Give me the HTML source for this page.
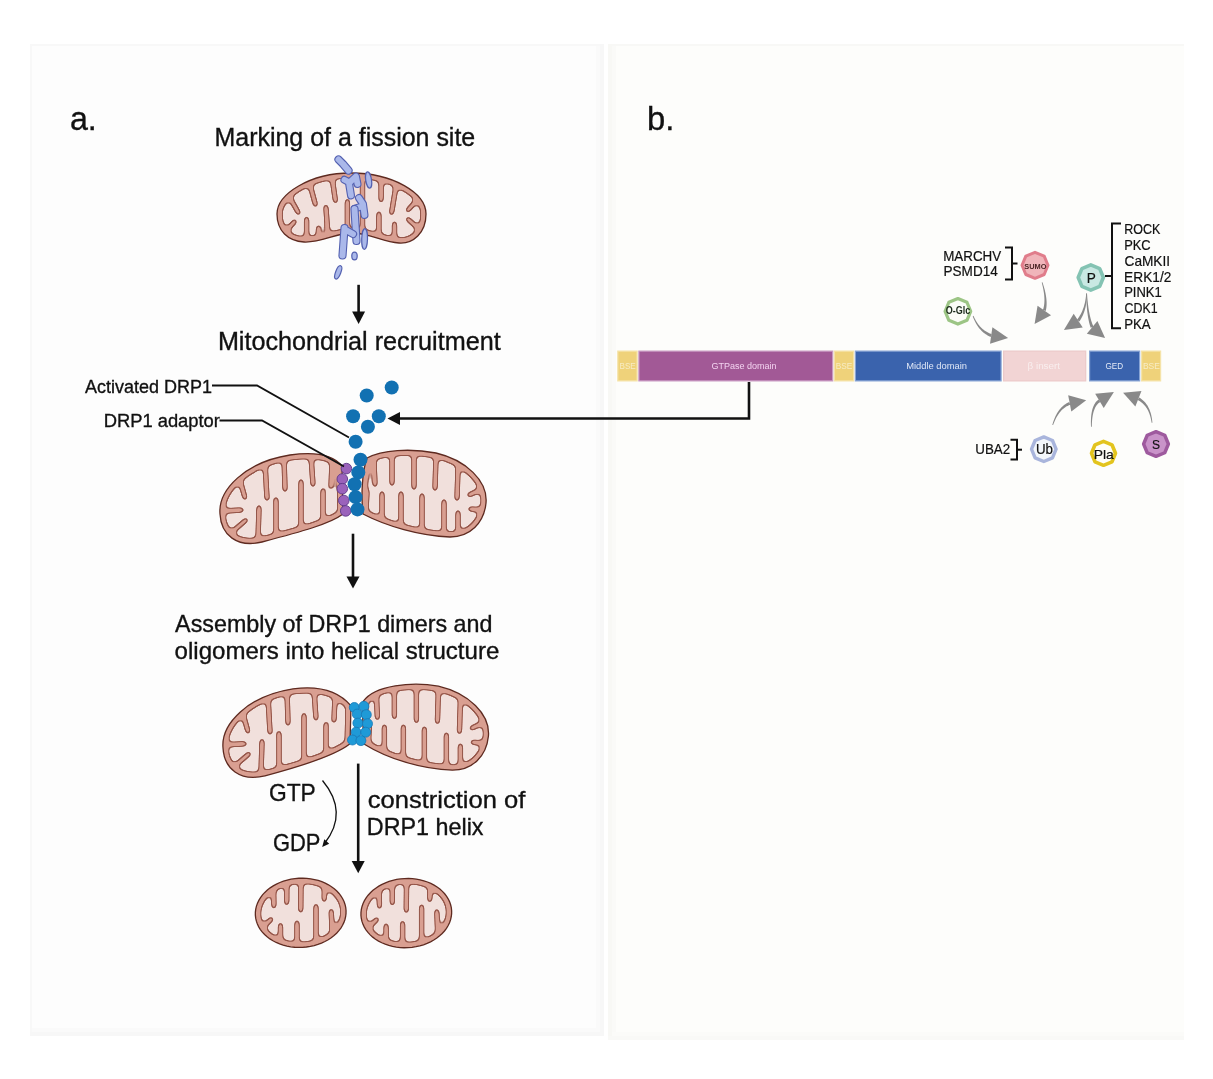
<!DOCTYPE html>
<html><head><meta charset="utf-8"><style>
html,body{margin:0;padding:0;background:#ffffff;overflow:hidden;}
svg{display:block;will-change:transform;}
</style></head><body>
<svg width="1213" height="1079" viewBox="0 0 1213 1079">
<defs><filter id="mf" x="-10%" y="-10%" width="120%" height="120%" color-interpolation-filters="sRGB"><feGaussianBlur in="SourceAlpha" stdDeviation="2.0" result="b"/><feComponentTransfer in="b" result="fa"><feFuncA type="linear" slope="8" intercept="-3.6"/></feComponentTransfer><feMorphology in="fa" operator="dilate" radius="1" result="dil"/><feComposite in="dil" in2="fa" operator="out" result="ea"/><feFlood flood-color="#f1e0dc" result="c1"/><feComposite in="c1" in2="fa" operator="in" result="fill"/><feFlood flood-color="#94564a" result="c2"/><feComposite in="c2" in2="ea" operator="in" result="edge"/><feMerge><feMergeNode in="fill"/><feMergeNode in="edge"/></feMerge></filter><mask id="mm1" maskUnits="userSpaceOnUse" x="0" y="0" width="1213" height="1079"><path d="M277,214 C277,194 310,173 351,173 C393,173 426,193 426,214 C426,233 413,244 399,243 C383,242 369,233 352,233 C336,233 321,243 304,242 C288,241 277,231 277,214 Z" fill="#fff"/><path d="M277,214 C277,194 310,173 351,173 C393,173 426,193 426,214 C426,233 413,244 399,243 C383,242 369,233 352,233 C336,233 321,243 304,242 C288,241 277,231 277,214 Z" fill="none" stroke="#000" stroke-width="11.2"/><line x1="289" y1="196" x2="298.5" y2="213" stroke="#000" stroke-width="5.4" stroke-linecap="round"/><line x1="286" y1="231" x2="294.8" y2="221.4" stroke="#000" stroke-width="5.4" stroke-linecap="round"/><line x1="309" y1="181" x2="315.5" y2="205" stroke="#000" stroke-width="5.4" stroke-linecap="round"/><line x1="332" y1="177" x2="335.5" y2="201.4" stroke="#000" stroke-width="5.4" stroke-linecap="round"/><line x1="306.6" y1="240" x2="306.6" y2="218.4" stroke="#000" stroke-width="5.4" stroke-linecap="round"/><line x1="318.5" y1="238" x2="318.5" y2="227.3" stroke="#000" stroke-width="5.4" stroke-linecap="round"/><line x1="328" y1="237" x2="325.9" y2="206.5" stroke="#000" stroke-width="5.4" stroke-linecap="round"/><line x1="347.4" y1="233" x2="347.4" y2="200.6" stroke="#000" stroke-width="5.4" stroke-linecap="round"/><line x1="362.5" y1="175" x2="362.5" y2="235" stroke="#000" stroke-width="5.4" stroke-linecap="round"/><line x1="381.1" y1="177" x2="381.1" y2="200.6" stroke="#000" stroke-width="5.4" stroke-linecap="round"/><line x1="396" y1="186" x2="391.5" y2="213.2" stroke="#000" stroke-width="5.4" stroke-linecap="round"/><line x1="418" y1="199" x2="407.8" y2="210.3" stroke="#000" stroke-width="5.4" stroke-linecap="round"/><line x1="378.9" y1="240" x2="378.9" y2="213.2" stroke="#000" stroke-width="5.4" stroke-linecap="round"/><line x1="394.5" y1="242" x2="394.5" y2="223.2" stroke="#000" stroke-width="5.4" stroke-linecap="round"/><line x1="420" y1="230" x2="407.8" y2="219.1" stroke="#000" stroke-width="5.4" stroke-linecap="round"/></mask><mask id="mm2" maskUnits="userSpaceOnUse" x="0" y="0" width="1213" height="1079"><path d="M220,514 C218,490 245,462 290,455 C318,451 334,456 342,466 L343,514 C330,524 300,532 262,542 C237,548 221,535 220,514 Z" fill="#fff"/><path d="M220,514 C218,490 245,462 290,455 C318,451 334,456 342,466 L343,514 C330,524 300,532 262,542 C237,548 221,535 220,514 Z" fill="none" stroke="#000" stroke-width="11.2"/><line x1="240" y1="480" x2="245" y2="498" stroke="#000" stroke-width="5.4" stroke-linecap="round"/><line x1="265" y1="462" x2="267" y2="499" stroke="#000" stroke-width="5.4" stroke-linecap="round"/><line x1="284" y1="456" x2="285" y2="490" stroke="#000" stroke-width="5.4" stroke-linecap="round"/><line x1="311" y1="456" x2="313" y2="485" stroke="#000" stroke-width="5.4" stroke-linecap="round"/><line x1="332" y1="462" x2="331" y2="487" stroke="#000" stroke-width="5.4" stroke-linecap="round"/><line x1="224" y1="511" x2="242" y2="510" stroke="#000" stroke-width="5.4" stroke-linecap="round"/><line x1="232" y1="532" x2="246" y2="520" stroke="#000" stroke-width="5.4" stroke-linecap="round"/><line x1="258" y1="540" x2="259" y2="507" stroke="#000" stroke-width="5.4" stroke-linecap="round"/><line x1="276" y1="535" x2="276" y2="499" stroke="#000" stroke-width="5.4" stroke-linecap="round"/><line x1="301" y1="530" x2="301" y2="481" stroke="#000" stroke-width="5.4" stroke-linecap="round"/><line x1="323" y1="524" x2="323" y2="490" stroke="#000" stroke-width="5.4" stroke-linecap="round"/></mask><mask id="mm3" maskUnits="userSpaceOnUse" x="0" y="0" width="1213" height="1079"><path d="M367,458 C382,450 410,448 436,453 C466,460 488,481 486,503 C484,523 470,537 450,537 C420,536 386,526 363,514 C361,495 362,472 367,458 Z" fill="#fff"/><path d="M367,458 C382,450 410,448 436,453 C466,460 488,481 486,503 C484,523 470,537 450,537 C420,536 386,526 363,514 C361,495 362,472 367,458 Z" fill="none" stroke="#000" stroke-width="11.2"/><line x1="374" y1="462" x2="375" y2="485" stroke="#000" stroke-width="5.4" stroke-linecap="round"/><line x1="392" y1="452" x2="392" y2="484" stroke="#000" stroke-width="5.4" stroke-linecap="round"/><line x1="414" y1="451" x2="414" y2="488" stroke="#000" stroke-width="5.4" stroke-linecap="round"/><line x1="436" y1="456" x2="435" y2="489" stroke="#000" stroke-width="5.4" stroke-linecap="round"/><line x1="458" y1="468" x2="457" y2="499" stroke="#000" stroke-width="5.4" stroke-linecap="round"/><line x1="480" y1="490" x2="469" y2="495" stroke="#000" stroke-width="5.4" stroke-linecap="round"/><line x1="366" y1="510" x2="367" y2="491" stroke="#000" stroke-width="5.4" stroke-linecap="round"/><line x1="382" y1="520" x2="382" y2="493" stroke="#000" stroke-width="5.4" stroke-linecap="round"/><line x1="401" y1="527" x2="401" y2="493" stroke="#000" stroke-width="5.4" stroke-linecap="round"/><line x1="422" y1="532" x2="422" y2="495" stroke="#000" stroke-width="5.4" stroke-linecap="round"/><line x1="444" y1="536" x2="444" y2="501" stroke="#000" stroke-width="5.4" stroke-linecap="round"/><line x1="458" y1="536" x2="458" y2="512" stroke="#000" stroke-width="5.4" stroke-linecap="round"/><line x1="482" y1="510" x2="470" y2="509" stroke="#000" stroke-width="5.4" stroke-linecap="round"/></mask><mask id="mm4" maskUnits="userSpaceOnUse" x="0" y="0" width="1213" height="1079"><path d="M220,514 C218,490 245,462 290,455 C320,451 338,460 348,472 L347,510 C332,522 300,532 262,542 C237,548 221,535 220,514 Z" fill="#fff"/><path d="M220,514 C218,490 245,462 290,455 C320,451 338,460 348,472 L347,510 C332,522 300,532 262,542 C237,548 221,535 220,514 Z" fill="none" stroke="#000" stroke-width="11.2"/><line x1="240" y1="480" x2="245" y2="498" stroke="#000" stroke-width="5.4" stroke-linecap="round"/><line x1="265" y1="462" x2="267" y2="499" stroke="#000" stroke-width="5.4" stroke-linecap="round"/><line x1="284" y1="456" x2="285" y2="490" stroke="#000" stroke-width="5.4" stroke-linecap="round"/><line x1="311" y1="456" x2="313" y2="485" stroke="#000" stroke-width="5.4" stroke-linecap="round"/><line x1="332" y1="462" x2="331" y2="487" stroke="#000" stroke-width="5.4" stroke-linecap="round"/><line x1="224" y1="511" x2="242" y2="510" stroke="#000" stroke-width="5.4" stroke-linecap="round"/><line x1="232" y1="532" x2="246" y2="520" stroke="#000" stroke-width="5.4" stroke-linecap="round"/><line x1="258" y1="540" x2="259" y2="507" stroke="#000" stroke-width="5.4" stroke-linecap="round"/><line x1="276" y1="535" x2="276" y2="499" stroke="#000" stroke-width="5.4" stroke-linecap="round"/><line x1="301" y1="530" x2="301" y2="481" stroke="#000" stroke-width="5.4" stroke-linecap="round"/><line x1="323" y1="524" x2="323" y2="490" stroke="#000" stroke-width="5.4" stroke-linecap="round"/></mask><mask id="mm5" maskUnits="userSpaceOnUse" x="0" y="0" width="1213" height="1079"><path d="M361,468 C372,452 410,448 436,453 C466,460 488,481 486,503 C484,523 470,537 450,537 C420,536 386,526 362,511 C360,495 360,480 361,468 Z" fill="#fff"/><path d="M361,468 C372,452 410,448 436,453 C466,460 488,481 486,503 C484,523 470,537 450,537 C420,536 386,526 362,511 C360,495 360,480 361,468 Z" fill="none" stroke="#000" stroke-width="11.2"/><line x1="374" y1="462" x2="375" y2="485" stroke="#000" stroke-width="5.4" stroke-linecap="round"/><line x1="392" y1="452" x2="392" y2="484" stroke="#000" stroke-width="5.4" stroke-linecap="round"/><line x1="414" y1="451" x2="414" y2="488" stroke="#000" stroke-width="5.4" stroke-linecap="round"/><line x1="436" y1="456" x2="435" y2="489" stroke="#000" stroke-width="5.4" stroke-linecap="round"/><line x1="458" y1="468" x2="457" y2="499" stroke="#000" stroke-width="5.4" stroke-linecap="round"/><line x1="480" y1="490" x2="469" y2="495" stroke="#000" stroke-width="5.4" stroke-linecap="round"/><line x1="366" y1="510" x2="367" y2="491" stroke="#000" stroke-width="5.4" stroke-linecap="round"/><line x1="382" y1="520" x2="382" y2="493" stroke="#000" stroke-width="5.4" stroke-linecap="round"/><line x1="401" y1="527" x2="401" y2="493" stroke="#000" stroke-width="5.4" stroke-linecap="round"/><line x1="422" y1="532" x2="422" y2="495" stroke="#000" stroke-width="5.4" stroke-linecap="round"/><line x1="444" y1="536" x2="444" y2="501" stroke="#000" stroke-width="5.4" stroke-linecap="round"/><line x1="458" y1="536" x2="458" y2="512" stroke="#000" stroke-width="5.4" stroke-linecap="round"/><line x1="482" y1="510" x2="470" y2="509" stroke="#000" stroke-width="5.4" stroke-linecap="round"/></mask><mask id="mm6" maskUnits="userSpaceOnUse" x="0" y="0" width="1213" height="1079"><path d="M346.04,910.42 L346.02,913.44 L345.66,916.46 L344.96,919.45 L343.92,922.38 L342.56,925.25 L340.87,928.02 L338.88,930.67 L336.59,933.19 L334.04,935.55 L331.23,937.74 L328.19,939.74 L324.94,941.54 L321.50,943.11 L317.91,944.46 L314.18,945.56 L310.36,946.42 L306.46,947.01 L302.51,947.35 L298.55,947.43 L294.61,947.24 L290.71,946.79 L286.90,946.08 L283.18,945.12 L279.60,943.91 L276.18,942.47 L272.94,940.80 L269.92,938.91 L267.13,936.83 L264.60,934.56 L262.34,932.13 L260.38,929.56 L258.72,926.85 L257.38,924.04 L256.37,921.14 L255.69,918.18 L255.36,915.18 L255.38,912.16 L255.74,909.14 L256.44,906.15 L257.48,903.22 L258.84,900.35 L260.53,897.58 L262.52,894.93 L264.81,892.41 L267.36,890.05 L270.17,887.86 L273.21,885.86 L276.46,884.06 L279.90,882.49 L283.49,881.14 L287.22,880.04 L291.04,879.18 L294.94,878.59 L298.89,878.25 L302.85,878.17 L306.79,878.36 L310.69,878.81 L314.50,879.52 L318.22,880.48 L321.80,881.69 L325.22,883.13 L328.46,884.80 L331.48,886.69 L334.27,888.77 L336.80,891.04 L339.06,893.47 L341.02,896.04 L342.68,898.75 L344.02,901.56 L345.03,904.46 L345.71,907.42 Z" fill="#fff"/><path d="M346.04,910.42 L346.02,913.44 L345.66,916.46 L344.96,919.45 L343.92,922.38 L342.56,925.25 L340.87,928.02 L338.88,930.67 L336.59,933.19 L334.04,935.55 L331.23,937.74 L328.19,939.74 L324.94,941.54 L321.50,943.11 L317.91,944.46 L314.18,945.56 L310.36,946.42 L306.46,947.01 L302.51,947.35 L298.55,947.43 L294.61,947.24 L290.71,946.79 L286.90,946.08 L283.18,945.12 L279.60,943.91 L276.18,942.47 L272.94,940.80 L269.92,938.91 L267.13,936.83 L264.60,934.56 L262.34,932.13 L260.38,929.56 L258.72,926.85 L257.38,924.04 L256.37,921.14 L255.69,918.18 L255.36,915.18 L255.38,912.16 L255.74,909.14 L256.44,906.15 L257.48,903.22 L258.84,900.35 L260.53,897.58 L262.52,894.93 L264.81,892.41 L267.36,890.05 L270.17,887.86 L273.21,885.86 L276.46,884.06 L279.90,882.49 L283.49,881.14 L287.22,880.04 L291.04,879.18 L294.94,878.59 L298.89,878.25 L302.85,878.17 L306.79,878.36 L310.69,878.81 L314.50,879.52 L318.22,880.48 L321.80,881.69 L325.22,883.13 L328.46,884.80 L331.48,886.69 L334.27,888.77 L336.80,891.04 L339.06,893.47 L341.02,896.04 L342.68,898.75 L344.02,901.56 L345.03,904.46 L345.71,907.42 Z" fill="none" stroke="#000" stroke-width="11.6"/><line x1="273.5" y1="886" x2="273.9" y2="906.6" stroke="#000" stroke-width="5.4" stroke-linecap="round"/><line x1="286.8" y1="881" x2="286.7" y2="903.3" stroke="#000" stroke-width="5.4" stroke-linecap="round"/><line x1="301" y1="879" x2="300.7" y2="910.7" stroke="#000" stroke-width="5.4" stroke-linecap="round"/><line x1="324.5" y1="883" x2="324.2" y2="900" stroke="#000" stroke-width="5.4" stroke-linecap="round"/><line x1="261" y1="929" x2="271.4" y2="919" stroke="#000" stroke-width="5.4" stroke-linecap="round"/><line x1="280.5" y1="941" x2="280.5" y2="924.8" stroke="#000" stroke-width="5.4" stroke-linecap="round"/><line x1="297" y1="944" x2="297" y2="922.3" stroke="#000" stroke-width="5.4" stroke-linecap="round"/><line x1="316" y1="941" x2="316" y2="905.8" stroke="#000" stroke-width="5.4" stroke-linecap="round"/><line x1="332" y1="930" x2="331.2" y2="910.7" stroke="#000" stroke-width="5.4" stroke-linecap="round"/></mask><mask id="mm7" maskUnits="userSpaceOnUse" x="0" y="0" width="1213" height="1079"><path d="M346.04,910.42 L346.02,913.44 L345.66,916.46 L344.96,919.45 L343.92,922.38 L342.56,925.25 L340.87,928.02 L338.88,930.67 L336.59,933.19 L334.04,935.55 L331.23,937.74 L328.19,939.74 L324.94,941.54 L321.50,943.11 L317.91,944.46 L314.18,945.56 L310.36,946.42 L306.46,947.01 L302.51,947.35 L298.55,947.43 L294.61,947.24 L290.71,946.79 L286.90,946.08 L283.18,945.12 L279.60,943.91 L276.18,942.47 L272.94,940.80 L269.92,938.91 L267.13,936.83 L264.60,934.56 L262.34,932.13 L260.38,929.56 L258.72,926.85 L257.38,924.04 L256.37,921.14 L255.69,918.18 L255.36,915.18 L255.38,912.16 L255.74,909.14 L256.44,906.15 L257.48,903.22 L258.84,900.35 L260.53,897.58 L262.52,894.93 L264.81,892.41 L267.36,890.05 L270.17,887.86 L273.21,885.86 L276.46,884.06 L279.90,882.49 L283.49,881.14 L287.22,880.04 L291.04,879.18 L294.94,878.59 L298.89,878.25 L302.85,878.17 L306.79,878.36 L310.69,878.81 L314.50,879.52 L318.22,880.48 L321.80,881.69 L325.22,883.13 L328.46,884.80 L331.48,886.69 L334.27,888.77 L336.80,891.04 L339.06,893.47 L341.02,896.04 L342.68,898.75 L344.02,901.56 L345.03,904.46 L345.71,907.42 Z" fill="#fff"/><path d="M346.04,910.42 L346.02,913.44 L345.66,916.46 L344.96,919.45 L343.92,922.38 L342.56,925.25 L340.87,928.02 L338.88,930.67 L336.59,933.19 L334.04,935.55 L331.23,937.74 L328.19,939.74 L324.94,941.54 L321.50,943.11 L317.91,944.46 L314.18,945.56 L310.36,946.42 L306.46,947.01 L302.51,947.35 L298.55,947.43 L294.61,947.24 L290.71,946.79 L286.90,946.08 L283.18,945.12 L279.60,943.91 L276.18,942.47 L272.94,940.80 L269.92,938.91 L267.13,936.83 L264.60,934.56 L262.34,932.13 L260.38,929.56 L258.72,926.85 L257.38,924.04 L256.37,921.14 L255.69,918.18 L255.36,915.18 L255.38,912.16 L255.74,909.14 L256.44,906.15 L257.48,903.22 L258.84,900.35 L260.53,897.58 L262.52,894.93 L264.81,892.41 L267.36,890.05 L270.17,887.86 L273.21,885.86 L276.46,884.06 L279.90,882.49 L283.49,881.14 L287.22,880.04 L291.04,879.18 L294.94,878.59 L298.89,878.25 L302.85,878.17 L306.79,878.36 L310.69,878.81 L314.50,879.52 L318.22,880.48 L321.80,881.69 L325.22,883.13 L328.46,884.80 L331.48,886.69 L334.27,888.77 L336.80,891.04 L339.06,893.47 L341.02,896.04 L342.68,898.75 L344.02,901.56 L345.03,904.46 L345.71,907.42 Z" fill="none" stroke="#000" stroke-width="11.6"/><line x1="273.5" y1="886" x2="273.9" y2="906.6" stroke="#000" stroke-width="5.4" stroke-linecap="round"/><line x1="286.8" y1="881" x2="286.7" y2="903.3" stroke="#000" stroke-width="5.4" stroke-linecap="round"/><line x1="301" y1="879" x2="300.7" y2="910.7" stroke="#000" stroke-width="5.4" stroke-linecap="round"/><line x1="324.5" y1="883" x2="324.2" y2="900" stroke="#000" stroke-width="5.4" stroke-linecap="round"/><line x1="261" y1="929" x2="271.4" y2="919" stroke="#000" stroke-width="5.4" stroke-linecap="round"/><line x1="280.5" y1="941" x2="280.5" y2="924.8" stroke="#000" stroke-width="5.4" stroke-linecap="round"/><line x1="297" y1="944" x2="297" y2="922.3" stroke="#000" stroke-width="5.4" stroke-linecap="round"/><line x1="316" y1="941" x2="316" y2="905.8" stroke="#000" stroke-width="5.4" stroke-linecap="round"/><line x1="332" y1="930" x2="331.2" y2="910.7" stroke="#000" stroke-width="5.4" stroke-linecap="round"/></mask></defs>
<rect width="1213" height="1079" fill="#ffffff"/>
<rect x="30" y="44" width="574" height="992" fill="#fdfdfd"/>
<rect x="30" y="44" width="574" height="2" fill="#f8f8f8"/>
<rect x="30" y="44" width="2" height="992" fill="#f8f8f8"/>
<rect x="596" y="46" width="4" height="986" fill="#fafafa"/>
<rect x="600" y="44" width="4" height="992" fill="#f7f7f7"/>
<rect x="32" y="1028" width="568" height="4" fill="#fafafa"/>
<rect x="30" y="1032" width="574" height="4" fill="#f7f7f7"/>
<rect x="608" y="44" width="576" height="996" fill="#fdfdfb"/>
<rect x="608" y="44" width="576" height="2" fill="#f8f8f6"/>
<rect x="608" y="44" width="4" height="996" fill="#f8f8f5"/>
<rect x="612" y="46" width="4" height="990" fill="#fafaf8"/>
<rect x="612" y="1032" width="572" height="4" fill="#fbfbf9"/>
<rect x="608" y="1036" width="576" height="4" fill="#f9f9f7"/>
<path d="M277,214 C277,194 310,173 351,173 C393,173 426,193 426,214 C426,233 413,244 399,243 C383,242 369,233 352,233 C336,233 321,243 304,242 C288,241 277,231 277,214 Z" fill="#d99f91"/>
<g filter="url(#mf)"><g mask="url(#mm1)"><rect x="0" y="0" width="1213" height="1079" fill="#000"/></g></g>
<path d="M277,214 C277,194 310,173 351,173 C393,173 426,193 426,214 C426,233 413,244 399,243 C383,242 369,233 352,233 C336,233 321,243 304,242 C288,241 277,231 277,214 Z" fill="none" stroke="#5e2a20" stroke-width="1.3"/>
<path d="M220,514 C218,490 245,462 290,455 C318,451 334,456 342,466 L343,514 C330,524 300,532 262,542 C237,548 221,535 220,514 Z" fill="#d99f91"/>
<g filter="url(#mf)"><g mask="url(#mm2)"><rect x="0" y="0" width="1213" height="1079" fill="#000"/></g></g>
<path d="M220,514 C218,490 245,462 290,455 C318,451 334,456 342,466 L343,514 C330,524 300,532 262,542 C237,548 221,535 220,514 Z" fill="none" stroke="#5e2a20" stroke-width="1.3"/>
<path d="M367,458 C382,450 410,448 436,453 C466,460 488,481 486,503 C484,523 470,537 450,537 C420,536 386,526 363,514 C361,495 362,472 367,458 Z" fill="#d99f91"/>
<g filter="url(#mf)"><g mask="url(#mm3)"><rect x="0" y="0" width="1213" height="1079" fill="#000"/></g></g>
<path d="M367,458 C382,450 410,448 436,453 C466,460 488,481 486,503 C484,523 470,537 450,537 C420,536 386,526 363,514 C361,495 362,472 367,458 Z" fill="none" stroke="#5e2a20" stroke-width="1.3"/>
<g transform="translate(3,233.8)">
<path d="M220,514 C218,490 245,462 290,455 C320,451 338,460 348,472 L347,510 C332,522 300,532 262,542 C237,548 221,535 220,514 Z" fill="#d99f91"/>
<g filter="url(#mf)"><g mask="url(#mm4)"><rect x="0" y="0" width="1213" height="1079" fill="#000"/></g></g>
<path d="M220,514 C218,490 245,462 290,455 C320,451 338,460 348,472 L347,510 C332,522 300,532 262,542 C237,548 221,535 220,514 Z" fill="none" stroke="#5e2a20" stroke-width="1.3"/>
</g>
<g transform="translate(2.4,233.2)">
<path d="M361,468 C372,452 410,448 436,453 C466,460 488,481 486,503 C484,523 470,537 450,537 C420,536 386,526 362,511 C360,495 360,480 361,468 Z" fill="#d99f91"/>
<g filter="url(#mf)"><g mask="url(#mm5)"><rect x="0" y="0" width="1213" height="1079" fill="#000"/></g></g>
<path d="M361,468 C372,452 410,448 436,453 C466,460 488,481 486,503 C484,523 470,537 450,537 C420,536 386,526 362,511 C360,495 360,480 361,468 Z" fill="none" stroke="#5e2a20" stroke-width="1.3"/>
</g>
<path d="M346.04,910.42 L346.02,913.44 L345.66,916.46 L344.96,919.45 L343.92,922.38 L342.56,925.25 L340.87,928.02 L338.88,930.67 L336.59,933.19 L334.04,935.55 L331.23,937.74 L328.19,939.74 L324.94,941.54 L321.50,943.11 L317.91,944.46 L314.18,945.56 L310.36,946.42 L306.46,947.01 L302.51,947.35 L298.55,947.43 L294.61,947.24 L290.71,946.79 L286.90,946.08 L283.18,945.12 L279.60,943.91 L276.18,942.47 L272.94,940.80 L269.92,938.91 L267.13,936.83 L264.60,934.56 L262.34,932.13 L260.38,929.56 L258.72,926.85 L257.38,924.04 L256.37,921.14 L255.69,918.18 L255.36,915.18 L255.38,912.16 L255.74,909.14 L256.44,906.15 L257.48,903.22 L258.84,900.35 L260.53,897.58 L262.52,894.93 L264.81,892.41 L267.36,890.05 L270.17,887.86 L273.21,885.86 L276.46,884.06 L279.90,882.49 L283.49,881.14 L287.22,880.04 L291.04,879.18 L294.94,878.59 L298.89,878.25 L302.85,878.17 L306.79,878.36 L310.69,878.81 L314.50,879.52 L318.22,880.48 L321.80,881.69 L325.22,883.13 L328.46,884.80 L331.48,886.69 L334.27,888.77 L336.80,891.04 L339.06,893.47 L341.02,896.04 L342.68,898.75 L344.02,901.56 L345.03,904.46 L345.71,907.42 Z" fill="#d99f91"/>
<g filter="url(#mf)"><g mask="url(#mm6)"><rect x="0" y="0" width="1213" height="1079" fill="#000"/></g></g>
<path d="M346.04,910.42 L346.02,913.44 L345.66,916.46 L344.96,919.45 L343.92,922.38 L342.56,925.25 L340.87,928.02 L338.88,930.67 L336.59,933.19 L334.04,935.55 L331.23,937.74 L328.19,939.74 L324.94,941.54 L321.50,943.11 L317.91,944.46 L314.18,945.56 L310.36,946.42 L306.46,947.01 L302.51,947.35 L298.55,947.43 L294.61,947.24 L290.71,946.79 L286.90,946.08 L283.18,945.12 L279.60,943.91 L276.18,942.47 L272.94,940.80 L269.92,938.91 L267.13,936.83 L264.60,934.56 L262.34,932.13 L260.38,929.56 L258.72,926.85 L257.38,924.04 L256.37,921.14 L255.69,918.18 L255.36,915.18 L255.38,912.16 L255.74,909.14 L256.44,906.15 L257.48,903.22 L258.84,900.35 L260.53,897.58 L262.52,894.93 L264.81,892.41 L267.36,890.05 L270.17,887.86 L273.21,885.86 L276.46,884.06 L279.90,882.49 L283.49,881.14 L287.22,880.04 L291.04,879.18 L294.94,878.59 L298.89,878.25 L302.85,878.17 L306.79,878.36 L310.69,878.81 L314.50,879.52 L318.22,880.48 L321.80,881.69 L325.22,883.13 L328.46,884.80 L331.48,886.69 L334.27,888.77 L336.80,891.04 L339.06,893.47 L341.02,896.04 L342.68,898.75 L344.02,901.56 L345.03,904.46 L345.71,907.42 Z" fill="none" stroke="#5e2a20" stroke-width="1.3"/>
<g transform="translate(105.6,0.3)">
<path d="M346.04,910.42 L346.02,913.44 L345.66,916.46 L344.96,919.45 L343.92,922.38 L342.56,925.25 L340.87,928.02 L338.88,930.67 L336.59,933.19 L334.04,935.55 L331.23,937.74 L328.19,939.74 L324.94,941.54 L321.50,943.11 L317.91,944.46 L314.18,945.56 L310.36,946.42 L306.46,947.01 L302.51,947.35 L298.55,947.43 L294.61,947.24 L290.71,946.79 L286.90,946.08 L283.18,945.12 L279.60,943.91 L276.18,942.47 L272.94,940.80 L269.92,938.91 L267.13,936.83 L264.60,934.56 L262.34,932.13 L260.38,929.56 L258.72,926.85 L257.38,924.04 L256.37,921.14 L255.69,918.18 L255.36,915.18 L255.38,912.16 L255.74,909.14 L256.44,906.15 L257.48,903.22 L258.84,900.35 L260.53,897.58 L262.52,894.93 L264.81,892.41 L267.36,890.05 L270.17,887.86 L273.21,885.86 L276.46,884.06 L279.90,882.49 L283.49,881.14 L287.22,880.04 L291.04,879.18 L294.94,878.59 L298.89,878.25 L302.85,878.17 L306.79,878.36 L310.69,878.81 L314.50,879.52 L318.22,880.48 L321.80,881.69 L325.22,883.13 L328.46,884.80 L331.48,886.69 L334.27,888.77 L336.80,891.04 L339.06,893.47 L341.02,896.04 L342.68,898.75 L344.02,901.56 L345.03,904.46 L345.71,907.42 Z" fill="#d99f91"/>
<g filter="url(#mf)"><g mask="url(#mm7)"><rect x="0" y="0" width="1213" height="1079" fill="#000"/></g></g>
<path d="M346.04,910.42 L346.02,913.44 L345.66,916.46 L344.96,919.45 L343.92,922.38 L342.56,925.25 L340.87,928.02 L338.88,930.67 L336.59,933.19 L334.04,935.55 L331.23,937.74 L328.19,939.74 L324.94,941.54 L321.50,943.11 L317.91,944.46 L314.18,945.56 L310.36,946.42 L306.46,947.01 L302.51,947.35 L298.55,947.43 L294.61,947.24 L290.71,946.79 L286.90,946.08 L283.18,945.12 L279.60,943.91 L276.18,942.47 L272.94,940.80 L269.92,938.91 L267.13,936.83 L264.60,934.56 L262.34,932.13 L260.38,929.56 L258.72,926.85 L257.38,924.04 L256.37,921.14 L255.69,918.18 L255.36,915.18 L255.38,912.16 L255.74,909.14 L256.44,906.15 L257.48,903.22 L258.84,900.35 L260.53,897.58 L262.52,894.93 L264.81,892.41 L267.36,890.05 L270.17,887.86 L273.21,885.86 L276.46,884.06 L279.90,882.49 L283.49,881.14 L287.22,880.04 L291.04,879.18 L294.94,878.59 L298.89,878.25 L302.85,878.17 L306.79,878.36 L310.69,878.81 L314.50,879.52 L318.22,880.48 L321.80,881.69 L325.22,883.13 L328.46,884.80 L331.48,886.69 L334.27,888.77 L336.80,891.04 L339.06,893.47 L341.02,896.04 L342.68,898.75 L344.02,901.56 L345.03,904.46 L345.71,907.42 Z" fill="none" stroke="#5e2a20" stroke-width="1.3"/>
</g>
<path d="M338.5,159.5 L343,164 L348.5,170.5" fill="none" stroke="#5360b0" stroke-width="8.2" stroke-linecap="round" stroke-linejoin="round"/>
<path d="M338.5,159.5 L343,164 L348.5,170.5" fill="none" stroke="#aab8ea" stroke-width="6.0" stroke-linecap="round" stroke-linejoin="round"/>
<ellipse cx="368.60" cy="180.00" rx="8.16" ry="2.90" transform="rotate(81.3 368.60 180.00)" fill="#aab8ea" stroke="#5360b0" stroke-width="1.21"/>
<path d="M344.4,179.8 L349.5,182.5 L356,176.5 L357.5,184 M349,183 L351,195.5" fill="none" stroke="#5360b0" stroke-width="8.0" stroke-linecap="round" stroke-linejoin="round"/>
<path d="M344.4,179.8 L349.5,182.5 L356,176.5 L357.5,184 M349,183 L351,195.5" fill="none" stroke="#aab8ea" stroke-width="5.8" stroke-linecap="round" stroke-linejoin="round"/>
<path d="M359,198 L363,204 L364.5,215 M355,208.5 L360,207" fill="none" stroke="#5360b0" stroke-width="8.0" stroke-linecap="round" stroke-linejoin="round"/>
<path d="M359,198 L363,204 L364.5,215 M355,208.5 L360,207" fill="none" stroke="#aab8ea" stroke-width="5.8" stroke-linecap="round" stroke-linejoin="round"/>
<path d="M354.5,209 L355.5,225 L356.5,241" fill="none" stroke="#5360b0" stroke-width="8.2" stroke-linecap="round" stroke-linejoin="round"/>
<path d="M354.5,209 L355.5,225 L356.5,241" fill="none" stroke="#aab8ea" stroke-width="6.0" stroke-linecap="round" stroke-linejoin="round"/>
<path d="M344.5,228 L343.5,242 L342.5,255.5 M345,229.5 L353,234" fill="none" stroke="#5360b0" stroke-width="8.2" stroke-linecap="round" stroke-linejoin="round"/>
<path d="M344.5,228 L343.5,242 L342.5,255.5 M345,229.5 L353,234" fill="none" stroke="#aab8ea" stroke-width="6.0" stroke-linecap="round" stroke-linejoin="round"/>
<ellipse cx="364.60" cy="239.00" rx="10.40" ry="2.90" transform="rotate(91.5 364.60 239.00)" fill="#aab8ea" stroke="#5360b0" stroke-width="1.21"/>
<ellipse cx="354.50" cy="256.00" rx="3.90" ry="2.70" transform="rotate(90.0 354.50 256.00)" fill="#aab8ea" stroke="#5360b0" stroke-width="1.21"/>
<ellipse cx="338.20" cy="272.35" rx="7.05" ry="2.60" transform="rotate(111.1 338.20 272.35)" fill="#aab8ea" stroke="#5360b0" stroke-width="1.21"/>
<circle cx="346.4" cy="468.6" r="5.3" fill="#9a62bb" stroke="#5f3a8a" stroke-width="0.9"/>
<circle cx="342.3" cy="479" r="5.3" fill="#9a62bb" stroke="#5f3a8a" stroke-width="0.9"/>
<circle cx="342.3" cy="488.7" r="5.3" fill="#9a62bb" stroke="#5f3a8a" stroke-width="0.9"/>
<circle cx="343.8" cy="500.5" r="5.3" fill="#9a62bb" stroke="#5f3a8a" stroke-width="0.9"/>
<circle cx="345.7" cy="510.9" r="5.3" fill="#9a62bb" stroke="#5f3a8a" stroke-width="0.9"/>
<circle cx="391.7" cy="387.5" r="7.0" fill="#1271b2"/>
<circle cx="366.7" cy="395.5" r="7.0" fill="#1271b2"/>
<circle cx="353.1" cy="416.3" r="7.0" fill="#1271b2"/>
<circle cx="378.8" cy="416.3" r="7.0" fill="#1271b2"/>
<circle cx="367.9" cy="426.8" r="7.0" fill="#1271b2"/>
<circle cx="355.6" cy="441.7" r="7.0" fill="#1271b2"/>
<circle cx="360.5" cy="459.7" r="7.0" fill="#1271b2"/>
<circle cx="358.3" cy="472.4" r="7.0" fill="#1271b2"/>
<circle cx="354.6" cy="484.2" r="7.0" fill="#1271b2"/>
<circle cx="355.6" cy="497.1" r="7.0" fill="#1271b2"/>
<circle cx="357.5" cy="509.4" r="7.0" fill="#1271b2"/>
<circle cx="354.3" cy="707.5" r="5.0" fill="#1f9ad7" stroke="#1777b6" stroke-width="0.8"/>
<circle cx="363.9" cy="706.3" r="5.0" fill="#1f9ad7" stroke="#1777b6" stroke-width="0.8"/>
<circle cx="357.3" cy="714.1" r="5.0" fill="#1f9ad7" stroke="#1777b6" stroke-width="0.8"/>
<circle cx="366.3" cy="714.7" r="5.0" fill="#1f9ad7" stroke="#1777b6" stroke-width="0.8"/>
<circle cx="357.9" cy="723.1" r="5.0" fill="#1f9ad7" stroke="#1777b6" stroke-width="0.8"/>
<circle cx="367.5" cy="723.7" r="5.0" fill="#1f9ad7" stroke="#1777b6" stroke-width="0.8"/>
<circle cx="356.1" cy="732.2" r="5.0" fill="#1f9ad7" stroke="#1777b6" stroke-width="0.8"/>
<circle cx="365.7" cy="732.2" r="5.0" fill="#1f9ad7" stroke="#1777b6" stroke-width="0.8"/>
<circle cx="352.5" cy="740" r="5.0" fill="#1f9ad7" stroke="#1777b6" stroke-width="0.8"/>
<circle cx="360.9" cy="740.6" r="5.0" fill="#1f9ad7" stroke="#1777b6" stroke-width="0.8"/>
<polyline points="212,385.5 257,385.5 349,437.5" fill="none" stroke="#111" stroke-width="1.8"/>
<polyline points="219.5,420.5 262,420.5 344,466.5" fill="none" stroke="#111" stroke-width="1.8"/>
<line x1="358.6" y1="284.8" x2="358.6" y2="312.6" stroke="#111" stroke-width="2.6"/>
<polygon points="352.1,311.6 365.1,311.6 358.6,324.1" fill="#111"/>
<line x1="353" y1="533.7" x2="353" y2="577.4" stroke="#111" stroke-width="2.6"/>
<polygon points="346.5,576.4 359.5,576.4 353,588.6" fill="#111"/>
<line x1="358.2" y1="763.6" x2="358.2" y2="861.9" stroke="#111" stroke-width="2.6"/>
<polygon points="351.7,860.9 364.7,860.9 358.2,873.2" fill="#111"/>
<polyline points="749,382 749,418.5 399,418.5" fill="none" stroke="#111" stroke-width="2.6"/>
<polygon points="400,412 400,425 387.5,418.5" fill="#111"/>
<path d="M322.5,780.5 Q349,812.4 324.5,843.5" fill="none" stroke="#111" stroke-width="1.3"/>
<polygon points="322.2,847 324.3,839.3 329.2,843.8" fill="#111"/>
<g style='font-family:"Liberation Sans", sans-serif'>
<text x="69.96" y="129.6" font-size="34" fill="#111" stroke="#111" stroke-width="0.35" textLength="26.87" lengthAdjust="spacingAndGlyphs">a.</text>
<text x="647.03" y="129.6" font-size="34" fill="#111" stroke="#111" stroke-width="0.35" textLength="27.35" lengthAdjust="spacingAndGlyphs">b.</text>
<text x="214.50" y="145.9" font-size="25.4" fill="#111" stroke="#111" stroke-width="0.35" textLength="260.72" lengthAdjust="spacingAndGlyphs">Marking of a fission site</text>
<text x="217.88" y="349.7" font-size="25.2" fill="#111" stroke="#111" stroke-width="0.35" textLength="282.79" lengthAdjust="spacingAndGlyphs">Mitochondrial recruitment</text>
<text x="84.90" y="393" font-size="19.2" fill="#111" stroke="#111" stroke-width="0.35" textLength="127.03" lengthAdjust="spacingAndGlyphs">Activated DRP1</text>
<text x="103.63" y="426.6" font-size="19.2" fill="#111" stroke="#111" stroke-width="0.35" textLength="116.31" lengthAdjust="spacingAndGlyphs">DRP1 adaptor</text>
<text x="175.10" y="632" font-size="24" fill="#111" stroke="#111" stroke-width="0.35" textLength="317.33" lengthAdjust="spacingAndGlyphs">Assembly of DRP1 dimers and</text>
<text x="174.64" y="658.8" font-size="24" fill="#111" stroke="#111" stroke-width="0.35" textLength="324.65" lengthAdjust="spacingAndGlyphs">oligomers into helical structure</text>
<text x="268.96" y="801" font-size="24.5" fill="#111" stroke="#111" stroke-width="0.35" textLength="46.82" lengthAdjust="spacingAndGlyphs">GTP</text>
<text x="273.01" y="850.6" font-size="24.5" fill="#111" stroke="#111" stroke-width="0.35" textLength="47.43" lengthAdjust="spacingAndGlyphs">GDP</text>
<text x="367.68" y="807.8" font-size="24.5" fill="#111" stroke="#111" stroke-width="0.35" textLength="157.67" lengthAdjust="spacingAndGlyphs">constriction of</text>
<text x="366.83" y="835.4" font-size="24.5" fill="#111" stroke="#111" stroke-width="0.35" textLength="116.70" lengthAdjust="spacingAndGlyphs">DRP1 helix</text>
</g>
<rect x="617.8" y="351.1" width="19.3" height="29.8" fill="#efd27a" stroke="#f5e3a8" stroke-width="1.2"/>
<rect x="638.9" y="351.1" width="193.8" height="29.8" fill="#a25996" stroke="#c99bc2" stroke-width="1.2"/>
<rect x="834.4" y="351.1" width="19.2" height="29.8" fill="#efd27a" stroke="#f5e3a8" stroke-width="1.2"/>
<rect x="855.4" y="351.1" width="145.7" height="29.8" fill="#3a63ad" stroke="#88a4d4" stroke-width="1.2"/>
<rect x="1003.6" y="351.1" width="82.1" height="29.8" fill="#f2d4d4" stroke="#ecc9c9" stroke-width="1.2"/>
<rect x="1089.6" y="351.1" width="50.0" height="29.8" fill="#3a63ad" stroke="#88a4d4" stroke-width="1.2"/>
<rect x="1141.6" y="351.1" width="19.0" height="29.8" fill="#efd27a" stroke="#f5e3a8" stroke-width="1.2"/>
<g style='font-family:"Liberation Sans", sans-serif'>
<text x="619.55" y="369.2" font-size="9.6" fill="#f7ecc4" textLength="16.19" lengthAdjust="spacingAndGlyphs">BSE</text>
<text x="711.45" y="369.2" font-size="9.6" fill="#f3d3f0" textLength="65.10" lengthAdjust="spacingAndGlyphs">GTPase domain</text>
<text x="835.84" y="369.2" font-size="9.6" fill="#f7ecc4" textLength="16.51" lengthAdjust="spacingAndGlyphs">BSE</text>
<text x="906.15" y="369.2" font-size="9.6" fill="#dfe7f6" textLength="60.92" lengthAdjust="spacingAndGlyphs">Middle domain</text>
<text x="1027.56" y="369.2" font-size="9.6" fill="#f9eeee" textLength="32.47" lengthAdjust="spacingAndGlyphs">β insert</text>
<text x="1105.39" y="369.2" font-size="9.6" fill="#e3eaf7" textLength="17.69" lengthAdjust="spacingAndGlyphs">GED</text>
<text x="1142.92" y="369.2" font-size="9.6" fill="#f7ecc4" textLength="16.93" lengthAdjust="spacingAndGlyphs">BSE</text>
</g>
<polygon points="1035.00,252.30 1044.19,256.11 1048.00,265.30 1044.19,274.49 1035.00,278.30 1025.81,274.49 1022.00,265.30 1025.81,256.11" fill="#f0b5ba" stroke="#e07d8b" stroke-width="3.0" stroke-linejoin="round"/>
<polygon points="1090.80,264.90 1099.71,268.59 1103.40,277.50 1099.71,286.41 1090.80,290.10 1081.89,286.41 1078.20,277.50 1081.89,268.59" fill="#c9e8e3" stroke="#84c3b3" stroke-width="3.6" stroke-linejoin="round"/>
<polygon points="957.90,298.50 966.95,302.25 970.70,311.30 966.95,320.35 957.90,324.10 948.85,320.35 945.10,311.30 948.85,302.25" fill="#fbfdf8" stroke="#9cc585" stroke-width="3.2" stroke-linejoin="round"/>
<polygon points="1043.80,436.90 1052.50,440.50 1056.10,449.20 1052.50,457.90 1043.80,461.50 1035.10,457.90 1031.50,449.20 1035.10,440.50" fill="#f3f7fb" stroke="#a9b5dc" stroke-width="3.4" stroke-linejoin="round"/>
<polygon points="1103.50,441.30 1111.99,444.81 1115.50,453.30 1111.99,461.79 1103.50,465.30 1095.01,461.79 1091.50,453.30 1095.01,444.81" fill="#fffef8" stroke="#e3c41e" stroke-width="3.6" stroke-linejoin="round"/>
<polygon points="1156.00,431.60 1164.77,435.23 1168.40,444.00 1164.77,452.77 1156.00,456.40 1147.23,452.77 1143.60,444.00 1147.23,435.23" fill="#c993c9" stroke="#9e5a9e" stroke-width="3.4" stroke-linejoin="round"/>
<polygon points="972.73,316.15 973.19,317.41 973.68,318.63 974.19,319.82 974.73,320.98 975.28,322.10 975.87,323.19 976.47,324.25 977.10,325.27 977.76,326.26 978.44,327.21 979.15,328.13 979.88,329.02 980.64,329.87 981.42,330.69 982.23,331.47 983.06,332.22 983.92,332.93 984.81,333.61 985.72,334.25 986.66,334.86 987.63,335.43 988.62,335.96 989.64,336.45 990.68,336.91 991.72,334.09 990.75,333.76 989.80,333.40 988.87,333.00 987.95,332.56 987.06,332.09 986.18,331.58 985.31,331.03 984.47,330.44 983.64,329.82 982.84,329.16 982.04,328.47 981.27,327.73 980.52,326.95 979.78,326.14 979.06,325.29 978.36,324.40 977.68,323.46 977.02,322.49 976.38,321.49 975.76,320.44 975.16,319.35 974.57,318.22 974.01,317.06 973.47,315.85" fill="#898989"/>
<polygon points="989.99,343.71 1008.1,338 992.41,327.29" fill="#898989"/>
<polygon points="1041.72,282.52 1042.11,283.98 1042.47,285.41 1042.80,286.82 1043.09,288.21 1043.36,289.56 1043.60,290.89 1043.81,292.19 1043.99,293.47 1044.14,294.72 1044.26,295.94 1044.34,297.13 1044.40,298.30 1044.43,299.44 1044.43,300.55 1044.40,301.63 1044.34,302.68 1044.26,303.71 1044.14,304.70 1044.00,305.67 1043.83,306.61 1043.63,307.51 1043.40,308.39 1043.15,309.24 1042.87,310.06 1045.73,310.94 1045.96,309.98 1046.15,309.01 1046.31,308.01 1046.43,307.00 1046.52,305.97 1046.58,304.91 1046.61,303.84 1046.61,302.74 1046.58,301.62 1046.51,300.49 1046.42,299.33 1046.30,298.15 1046.14,296.95 1045.96,295.73 1045.74,294.48 1045.50,293.22 1045.23,291.93 1044.92,290.62 1044.59,289.29 1044.23,287.93 1043.84,286.55 1043.41,285.15 1042.96,283.73 1042.48,282.28" fill="#898989"/>
<polygon points="1037.56,305.66 1034.6,324 1051.04,315.34" fill="#898989"/>
<polygon points="1086.20,293.49 1086.09,294.84 1085.96,296.17 1085.80,297.48 1085.62,298.77 1085.41,300.03 1085.18,301.27 1084.93,302.49 1084.65,303.69 1084.35,304.86 1084.02,306.01 1083.67,307.14 1083.29,308.24 1082.89,309.32 1082.47,310.38 1082.03,311.42 1081.56,312.43 1081.07,313.42 1080.55,314.39 1080.02,315.33 1079.46,316.25 1078.87,317.15 1078.27,318.03 1077.64,318.88 1076.99,319.71 1079.41,321.49 1080.03,320.53 1080.63,319.56 1081.20,318.57 1081.74,317.55 1082.26,316.52 1082.75,315.48 1083.21,314.41 1083.64,313.33 1084.05,312.22 1084.43,311.10 1084.78,309.96 1085.11,308.81 1085.41,307.63 1085.68,306.44 1085.93,305.23 1086.15,304.00 1086.35,302.75 1086.52,301.49 1086.66,300.20 1086.78,298.90 1086.87,297.58 1086.94,296.25 1086.98,294.89 1087.00,293.51" fill="#898989"/>
<polygon points="1073.67,313.64 1063.9,329.9 1082.73,327.56" fill="#898989"/>
<polygon points="1086.20,293.52 1086.24,295.38 1086.28,297.20 1086.35,298.98 1086.42,300.73 1086.51,302.44 1086.61,304.11 1086.72,305.75 1086.85,307.34 1086.99,308.90 1087.14,310.42 1087.31,311.91 1087.49,313.35 1087.68,314.76 1087.89,316.13 1088.11,317.47 1088.34,318.77 1088.59,320.03 1088.85,321.26 1089.12,322.45 1089.41,323.60 1089.71,324.72 1090.03,325.81 1090.36,326.85 1090.71,327.87 1093.49,326.73 1093.08,325.82 1092.69,324.87 1092.30,323.88 1091.93,322.84 1091.57,321.76 1091.22,320.64 1090.88,319.48 1090.55,318.27 1090.24,317.03 1089.93,315.74 1089.64,314.42 1089.36,313.05 1089.10,311.64 1088.84,310.19 1088.60,308.70 1088.37,307.17 1088.16,305.60 1087.95,303.99 1087.76,302.34 1087.58,300.65 1087.42,298.92 1087.27,297.14 1087.13,295.33 1087.00,293.48" fill="#898989"/>
<polygon points="1086.80,333.68 1105.1,338.1 1097.40,320.92" fill="#898989"/>
<polygon points="1053.08,425.12 1053.58,423.75 1054.09,422.42 1054.63,421.14 1055.18,419.91 1055.76,418.72 1056.36,417.57 1056.98,416.47 1057.61,415.42 1058.27,414.42 1058.95,413.46 1059.64,412.54 1060.36,411.68 1061.09,410.85 1061.84,410.08 1062.61,409.35 1063.40,408.66 1064.20,408.02 1065.02,407.42 1065.86,406.87 1066.71,406.36 1067.58,405.89 1068.47,405.47 1069.38,405.09 1070.30,404.74 1069.20,401.96 1068.19,402.43 1067.20,402.95 1066.24,403.52 1065.31,404.13 1064.41,404.78 1063.53,405.47 1062.69,406.21 1061.87,406.99 1061.08,407.80 1060.31,408.66 1059.58,409.56 1058.87,410.50 1058.18,411.48 1057.52,412.50 1056.89,413.56 1056.29,414.66 1055.71,415.79 1055.15,416.97 1054.62,418.19 1054.11,419.45 1053.63,420.75 1053.17,422.08 1052.73,423.46 1052.32,424.88" fill="#898989"/>
<polygon points="1071.31,411.50 1086.2,400.2 1068.19,395.20" fill="#898989"/>
<polygon points="1091.80,426.69 1091.83,425.00 1091.89,423.37 1091.98,421.79 1092.09,420.27 1092.24,418.80 1092.42,417.39 1092.63,416.04 1092.87,414.75 1093.14,413.51 1093.44,412.33 1093.77,411.22 1094.12,410.16 1094.50,409.16 1094.91,408.22 1095.34,407.34 1095.80,406.52 1096.28,405.76 1096.79,405.06 1097.31,404.42 1097.86,403.84 1098.43,403.32 1099.01,402.85 1099.61,402.44 1100.24,402.08 1098.66,399.52 1097.91,400.08 1097.20,400.70 1096.53,401.37 1095.90,402.09 1095.31,402.86 1094.77,403.67 1094.26,404.54 1093.80,405.46 1093.37,406.42 1092.98,407.43 1092.63,408.49 1092.31,409.59 1092.02,410.75 1091.77,411.95 1091.55,413.20 1091.36,414.50 1091.21,415.85 1091.08,417.25 1090.99,418.70 1090.93,420.20 1090.90,421.75 1090.90,423.35 1090.94,425.00 1091.00,426.71" fill="#898989"/>
<polygon points="1103.73,407.91 1113.9,392.1 1095.17,393.69" fill="#898989"/>
<polygon points="1152.40,422.66 1152.26,421.18 1152.08,419.75 1151.88,418.35 1151.64,416.99 1151.36,415.66 1151.05,414.37 1150.70,413.12 1150.32,411.90 1149.90,410.72 1149.45,409.58 1148.95,408.47 1148.43,407.39 1147.86,406.36 1147.26,405.35 1146.62,404.39 1145.94,403.46 1145.22,402.57 1144.46,401.72 1143.67,400.91 1142.83,400.13 1141.96,399.40 1141.05,398.70 1140.10,398.04 1139.11,397.43 1137.69,400.07 1138.60,400.54 1139.49,401.04 1140.34,401.59 1141.17,402.17 1141.97,402.80 1142.74,403.46 1143.48,404.17 1144.20,404.91 1144.88,405.70 1145.54,406.54 1146.17,407.41 1146.77,408.33 1147.35,409.29 1147.89,410.30 1148.40,411.35 1148.88,412.44 1149.33,413.58 1149.75,414.76 1150.14,415.98 1150.50,417.25 1150.82,418.56 1151.12,419.91 1151.38,421.31 1151.60,422.74" fill="#898989"/>
<polygon points="1141.45,391.03 1123.1,392.7 1135.35,406.47" fill="#898989"/>
<polyline points="1005,247.5 1012,247.5 1012,279.5 1005,279.5" fill="none" stroke="#111" stroke-width="2"/>
<line x1="1012" y1="263.5" x2="1017.5" y2="263.5" stroke="#111" stroke-width="2"/>
<polyline points="1121,223.5 1112,223.5 1112,328.3 1121,328.3" fill="none" stroke="#111" stroke-width="2"/>
<line x1="1105" y1="276" x2="1112" y2="276" stroke="#111" stroke-width="2"/>
<polyline points="1010.5,439.7 1017,439.7 1017,459.6 1010.5,459.6" fill="none" stroke="#111" stroke-width="2"/>
<line x1="1017" y1="449.7" x2="1022" y2="449.7" stroke="#111" stroke-width="2"/>
<g style='font-family:"Liberation Sans", sans-serif'>
<text x="943.23" y="260.7" font-size="14.2" fill="#111" stroke="#111" stroke-width="0.2" textLength="58.00" lengthAdjust="spacingAndGlyphs">MARCHV</text>
<text x="943.52" y="276.4" font-size="14.2" fill="#111" stroke="#111" stroke-width="0.2" textLength="54.24" lengthAdjust="spacingAndGlyphs">PSMD14</text>
<text x="1124.20" y="233.8" font-size="14.2" fill="#111" stroke="#111" stroke-width="0.2" textLength="36.09" lengthAdjust="spacingAndGlyphs">ROCK</text>
<text x="1124.17" y="249.6" font-size="14.2" fill="#111" stroke="#111" stroke-width="0.2" textLength="26.51" lengthAdjust="spacingAndGlyphs">PKC</text>
<text x="1124.52" y="265.7" font-size="14.2" fill="#111" stroke="#111" stroke-width="0.2" textLength="45.58" lengthAdjust="spacingAndGlyphs">CaMKII</text>
<text x="1124.10" y="281.8" font-size="14.2" fill="#111" stroke="#111" stroke-width="0.2" textLength="47.23" lengthAdjust="spacingAndGlyphs">ERK1/2</text>
<text x="1124.16" y="297.2" font-size="14.2" fill="#111" stroke="#111" stroke-width="0.2" textLength="37.64" lengthAdjust="spacingAndGlyphs">PINK1</text>
<text x="1124.58" y="312.9" font-size="14.2" fill="#111" stroke="#111" stroke-width="0.2" textLength="32.99" lengthAdjust="spacingAndGlyphs">CDK1</text>
<text x="1124.14" y="328.8" font-size="14.2" fill="#111" stroke="#111" stroke-width="0.2" textLength="26.62" lengthAdjust="spacingAndGlyphs">PKA</text>
<text x="975.30" y="454.4" font-size="14.2" fill="#111" stroke="#111" stroke-width="0.2" textLength="34.92" lengthAdjust="spacingAndGlyphs">UBA2</text>
<text x="1024.22" y="268.5" font-size="7.7" fill="#4a2424" textLength="22.16" lengthAdjust="spacingAndGlyphs" font-weight="bold">SUMO</text>
<text x="1086.81" y="282.7" font-size="15.2" fill="#111" stroke="#111" stroke-width="0.2" textLength="9.10" lengthAdjust="spacingAndGlyphs">P</text>
<text x="945.64" y="314" font-size="10.6" fill="#1a2a1a" textLength="24.60" lengthAdjust="spacingAndGlyphs" font-weight="bold">O-Glc</text>
<text x="1035.90" y="453.6" font-size="14.2" fill="#111" stroke="#111" stroke-width="0.2" textLength="17.05" lengthAdjust="spacingAndGlyphs">Ub</text>
<text x="1093.68" y="458.5" font-size="13.6" fill="#111" stroke="#111" stroke-width="0.2" textLength="20.16" lengthAdjust="spacingAndGlyphs">Pla</text>
<text x="1151.96" y="449.3" font-size="13.6" fill="#111" stroke="#111" stroke-width="0.2" textLength="8.05" lengthAdjust="spacingAndGlyphs">S</text>
</g>
</svg></body></html>
